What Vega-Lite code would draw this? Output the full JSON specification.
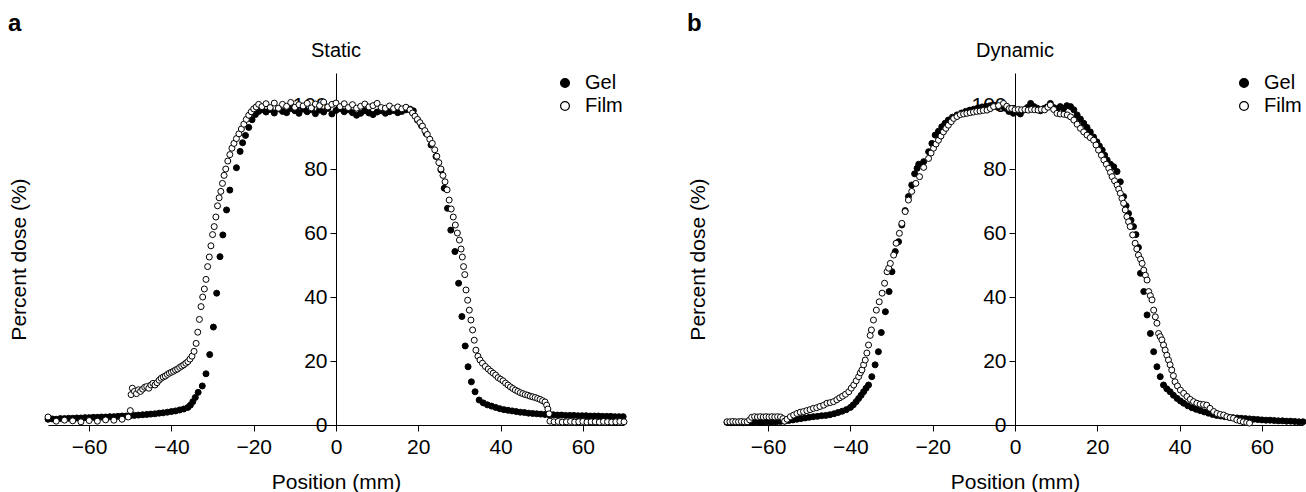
{
"$schema": "https://vega.github.io/schema/vega-lite/v6.json",
"padding": {"left": 8, "top": 12, "right": 0, "bottom": 0},
"spacing": 58,
"resolve": {"scale": {"fill": "independent"}, "legend": {"fill": "independent"}},
"datasets": {
"static": [
{"series":"Gel","x":-70,"y":1.8},{"series":"Gel","x":-69,"y":1.9},{"series":"Gel","x":-68,"y":1.8},{"series":"Gel","x":-67,"y":2.0},{"series":"Gel","x":-66,"y":2.0},{"series":"Gel","x":-65,"y":2.1},{"series":"Gel","x":-64,"y":2.1},{"series":"Gel","x":-63,"y":2.2},{"series":"Gel","x":-62,"y":2.2},{"series":"Gel","x":-61,"y":2.3},{"series":"Gel","x":-60,"y":2.3},{"series":"Gel","x":-59,"y":2.4},{"series":"Gel","x":-58,"y":2.4},{"series":"Gel","x":-57,"y":2.5},{"series":"Gel","x":-56,"y":2.5},{"series":"Gel","x":-55,"y":2.6},{"series":"Gel","x":-54,"y":2.6},{"series":"Gel","x":-53,"y":2.7},{"series":"Gel","x":-52,"y":2.8},{"series":"Gel","x":-51,"y":2.8},{"series":"Gel","x":-50,"y":2.9},{"series":"Gel","x":-49,"y":3.0},{"series":"Gel","x":-48,"y":3.1},{"series":"Gel","x":-47,"y":3.2},{"series":"Gel","x":-46,"y":3.3},{"series":"Gel","x":-45,"y":3.4},{"series":"Gel","x":-44,"y":3.5},{"series":"Gel","x":-43,"y":3.7},{"series":"Gel","x":-42,"y":3.8},{"series":"Gel","x":-41,"y":4.0},{"series":"Gel","x":-40,"y":4.2},{"series":"Gel","x":-39,"y":4.4},{"series":"Gel","x":-38,"y":4.7},{"series":"Gel","x":-37,"y":5.0},{"series":"Gel","x":-36,"y":5.5},{"series":"Gel","x":-35.4,"y":6.2},{"series":"Gel","x":-34.8,"y":7.3},{"series":"Gel","x":-34.2,"y":8.6},{"series":"Gel","x":-33.5,"y":10.2},{"series":"Gel","x":-32.5,"y":12.2},{"series":"Gel","x":-31.6,"y":16.0},{"series":"Gel","x":-30.7,"y":22.0},{"series":"Gel","x":-29.8,"y":30.6},{"series":"Gel","x":-29.0,"y":41.2},{"series":"Gel","x":-28.2,"y":52.6},{"series":"Gel","x":-27.5,"y":59.4},{"series":"Gel","x":-26.6,"y":67.2},{"series":"Gel","x":-25.8,"y":73.4},{"series":"Gel","x":-24.2,"y":80.4},{"series":"Gel","x":-23.3,"y":85.5},{"series":"Gel","x":-22.7,"y":88.2},{"series":"Gel","x":-22.0,"y":90.5},{"series":"Gel","x":-21.2,"y":93.0},{"series":"Gel","x":-20.4,"y":95.4},{"series":"Gel","x":-19.6,"y":97.0},{"series":"Gel","x":-18.8,"y":98.0},
{"series":"Gel","x":-18,"y":98.5},{"series":"Gel","x":-17,"y":97.8},{"series":"Gel","x":-16,"y":98.6},{"series":"Gel","x":-15,"y":97.5},{"series":"Gel","x":-14,"y":98.8},{"series":"Gel","x":-13,"y":98.0},{"series":"Gel","x":-12,"y":97.6},{"series":"Gel","x":-11,"y":98.9},{"series":"Gel","x":-10,"y":98.2},{"series":"Gel","x":-9,"y":97.4},{"series":"Gel","x":-8,"y":98.7},{"series":"Gel","x":-7,"y":97.9},{"series":"Gel","x":-6,"y":98.5},{"series":"Gel","x":-5,"y":97.3},{"series":"Gel","x":-4,"y":98.4},{"series":"Gel","x":-3,"y":97.8},{"series":"Gel","x":-2,"y":98.9},{"series":"Gel","x":-1,"y":97.2},{"series":"Gel","x":0,"y":98.3},{"series":"Gel","x":1,"y":98.8},{"series":"Gel","x":2,"y":97.9},{"series":"Gel","x":3,"y":98.5},{"series":"Gel","x":4,"y":97.6},{"series":"Gel","x":5,"y":96.8},{"series":"Gel","x":6,"y":97.4},{"series":"Gel","x":7,"y":98.2},{"series":"Gel","x":8,"y":97.5},{"series":"Gel","x":9,"y":97.0},{"series":"Gel","x":10,"y":97.8},{"series":"Gel","x":11,"y":98.2},{"series":"Gel","x":12,"y":97.4},{"series":"Gel","x":13,"y":97.9},{"series":"Gel","x":14,"y":98.3},{"series":"Gel","x":15,"y":97.6},{"series":"Gel","x":16,"y":98.0},{"series":"Gel","x":17,"y":98.5},{"series":"Gel","x":18,"y":98.7},
{"series":"Gel","x":18.8,"y":98.2},{"series":"Gel","x":19.8,"y":95.3},{"series":"Gel","x":20.8,"y":93.5},{"series":"Gel","x":21.9,"y":91.1},{"series":"Gel","x":23.1,"y":87.5},{"series":"Gel","x":24.3,"y":83.9},{"series":"Gel","x":25.5,"y":79.7},{"series":"Gel","x":26.3,"y":74.0},{"series":"Gel","x":27.1,"y":67.7},{"series":"Gel","x":27.9,"y":60.9},{"series":"Gel","x":28.9,"y":54.2},{"series":"Gel","x":29.8,"y":44.3},{"series":"Gel","x":30.6,"y":33.9},{"series":"Gel","x":31.4,"y":24.7},{"series":"Gel","x":32.1,"y":18.2},{"series":"Gel","x":32.9,"y":13.5},{"series":"Gel","x":33.8,"y":10.4},{"series":"Gel","x":34.8,"y":7.8},{"series":"Gel","x":35.8,"y":6.9},{"series":"Gel","x":36.8,"y":6.3},{"series":"Gel","x":37.8,"y":5.9},{"series":"Gel","x":38.8,"y":5.5},{"series":"Gel","x":39.8,"y":5.1},{"series":"Gel","x":40.8,"y":4.8},{"series":"Gel","x":41.8,"y":4.6},{"series":"Gel","x":42.8,"y":4.4},{"series":"Gel","x":43.8,"y":4.2},{"series":"Gel","x":44.8,"y":4.0},{"series":"Gel","x":45.8,"y":3.9},{"series":"Gel","x":46.8,"y":3.7},{"series":"Gel","x":47.8,"y":3.6},{"series":"Gel","x":48.8,"y":3.5},{"series":"Gel","x":49.8,"y":3.4},{"series":"Gel","x":50.8,"y":3.3},{"series":"Gel","x":51.8,"y":3.2},{"series":"Gel","x":52.8,"y":3.2},{"series":"Gel","x":53.8,"y":3.1},{"series":"Gel","x":54.8,"y":3.1},{"series":"Gel","x":55.8,"y":3.0},{"series":"Gel","x":56.8,"y":3.0},{"series":"Gel","x":57.8,"y":3.0},{"series":"Gel","x":58.8,"y":2.9},{"series":"Gel","x":59.8,"y":2.9},{"series":"Gel","x":60.8,"y":2.9},{"series":"Gel","x":61.8,"y":2.8},{"series":"Gel","x":62.8,"y":2.8},{"series":"Gel","x":63.8,"y":2.8},{"series":"Gel","x":64.8,"y":2.7},{"series":"Gel","x":65.8,"y":2.7},{"series":"Gel","x":66.8,"y":2.7},{"series":"Gel","x":67.8,"y":2.6},{"series":"Gel","x":68.8,"y":2.6},{"series":"Gel","x":69.8,"y":2.6},
{"series":"Film","x":-70,"y":2.5},{"series":"Film","x":-68,"y":1.2},{"series":"Film","x":-66,"y":1.5},{"series":"Film","x":-64,"y":1.3},{"series":"Film","x":-62,"y":1.0},{"series":"Film","x":-60,"y":1.4},{"series":"Film","x":-58,"y":1.2},{"series":"Film","x":-56,"y":1.6},{"series":"Film","x":-54,"y":1.5},{"series":"Film","x":-52,"y":1.8},{"series":"Film","x":-50.5,"y":2.5},{"series":"Film","x":-50,"y":4.5},{"series":"Film","x":-49.8,"y":9.5},{"series":"Film","x":-49.5,"y":11.5},{"series":"Film","x":-49,"y":10.5},{"series":"Film","x":-48.5,"y":9.8},{"series":"Film","x":-48,"y":11.0},{"series":"Film","x":-47.5,"y":10.5},{"series":"Film","x":-47,"y":11.2},{"series":"Film","x":-46.5,"y":11.8},{"series":"Film","x":-46,"y":12.0},{"series":"Film","x":-45.5,"y":11.5},{"series":"Film","x":-45,"y":12.5},{"series":"Film","x":-44.5,"y":13.0},{"series":"Film","x":-44,"y":12.5},{"series":"Film","x":-43.5,"y":13.2},{"series":"Film","x":-43,"y":14.0},{"series":"Film","x":-42.5,"y":14.6},{"series":"Film","x":-42,"y":15.0},{"series":"Film","x":-41.5,"y":15.3},{"series":"Film","x":-41,"y":15.8},{"series":"Film","x":-40.5,"y":16.2},{"series":"Film","x":-40,"y":16.5},{"series":"Film","x":-39.5,"y":16.8},{"series":"Film","x":-39,"y":17.2},{"series":"Film","x":-38.5,"y":17.5},{"series":"Film","x":-38,"y":18.0},{"series":"Film","x":-37.5,"y":18.4},{"series":"Film","x":-37,"y":18.8},{"series":"Film","x":-36.5,"y":19.3},{"series":"Film","x":-36,"y":19.8},{"series":"Film","x":-35.5,"y":20.6},{"series":"Film","x":-35,"y":21.5},{"series":"Film","x":-34.5,"y":23.0},{"series":"Film","x":-34,"y":25.5},{"series":"Film","x":-33.6,"y":29.0},{"series":"Film","x":-33.2,"y":33.0},{"series":"Film","x":-32.8,"y":37.0},{"series":"Film","x":-32.4,"y":40.0},{"series":"Film","x":-32,"y":42.5},{"series":"Film","x":-31.6,"y":45.5},{"series":"Film","x":-31.2,"y":49.5},{"series":"Film","x":-30.8,"y":52.5},{"series":"Film","x":-30.4,"y":56.0},{"series":"Film","x":-30,"y":59.5},{"series":"Film","x":-29.6,"y":62.0},{"series":"Film","x":-29.2,"y":65.0},{"series":"Film","x":-28.8,"y":68.5},{"series":"Film","x":-28.4,"y":71.0},{"series":"Film","x":-28,"y":73.0},{"series":"Film","x":-27.6,"y":75.5},{"series":"Film","x":-27.2,"y":78.0},{"series":"Film","x":-26.8,"y":80.0},{"series":"Film","x":-26.3,"y":82.5},{"series":"Film","x":-25.8,"y":84.5},{"series":"Film","x":-25.3,"y":86.5},{"series":"Film","x":-24.8,"y":88.0},{"series":"Film","x":-24.2,"y":89.5},{"series":"Film","x":-23.6,"y":91.0},{"series":"Film","x":-23,"y":92.5},{"series":"Film","x":-22.4,"y":94.0},{"series":"Film","x":-21.8,"y":95.5},{"series":"Film","x":-21.2,"y":96.8},{"series":"Film","x":-20.6,"y":97.9},{"series":"Film","x":-20,"y":98.8},{"series":"Film","x":-19.4,"y":99.4},{"series":"Film","x":-18.8,"y":100.2},
{"series":"Film","x":-18,"y":99.5},{"series":"Film","x":-17,"y":100.4},{"series":"Film","x":-16,"y":99.2},{"series":"Film","x":-15,"y":100.6},{"series":"Film","x":-14,"y":99.0},{"series":"Film","x":-13,"y":100.2},{"series":"Film","x":-12,"y":99.6},{"series":"Film","x":-11,"y":100.8},{"series":"Film","x":-10,"y":99.3},{"series":"Film","x":-9,"y":100.1},{"series":"Film","x":-8,"y":99.7},{"series":"Film","x":-7,"y":100.5},{"series":"Film","x":-6,"y":99.1},{"series":"Film","x":-5,"y":100.3},{"series":"Film","x":-4,"y":99.8},{"series":"Film","x":-3,"y":100.9},{"series":"Film","x":-2,"y":99.4},{"series":"Film","x":-1,"y":100.2},{"series":"Film","x":0,"y":100.6},{"series":"Film","x":1,"y":99.5},{"series":"Film","x":2,"y":100.4},{"series":"Film","x":3,"y":99.2},{"series":"Film","x":4,"y":100.1},{"series":"Film","x":5,"y":99.0},{"series":"Film","x":6,"y":99.6},{"series":"Film","x":7,"y":100.3},{"series":"Film","x":8,"y":99.4},{"series":"Film","x":9,"y":99.8},{"series":"Film","x":10,"y":100.5},{"series":"Film","x":11,"y":99.2},{"series":"Film","x":12,"y":99.0},{"series":"Film","x":13,"y":99.7},{"series":"Film","x":14,"y":98.9},{"series":"Film","x":15,"y":99.4},{"series":"Film","x":16,"y":98.8},{"series":"Film","x":17,"y":99.3},{"series":"Film","x":18,"y":98.5},
{"series":"Film","x":18.6,"y":97.5},{"series":"Film","x":19.2,"y":96.5},{"series":"Film","x":19.8,"y":95.5},{"series":"Film","x":20.4,"y":94.5},{"series":"Film","x":21,"y":93.4},{"series":"Film","x":21.6,"y":92.0},{"series":"Film","x":22.2,"y":90.8},{"series":"Film","x":22.8,"y":89.3},{"series":"Film","x":23.4,"y":88.0},{"series":"Film","x":24,"y":86.0},{"series":"Film","x":24.5,"y":84.0},{"series":"Film","x":25,"y":82.0},{"series":"Film","x":25.5,"y":80.0},{"series":"Film","x":26,"y":78.0},{"series":"Film","x":26.5,"y":76.0},{"series":"Film","x":27,"y":73.5},{"series":"Film","x":27.5,"y":70.3},{"series":"Film","x":28,"y":67.5},{"series":"Film","x":28.5,"y":65.0},{"series":"Film","x":29,"y":62.5},{"series":"Film","x":29.5,"y":60.0},{"series":"Film","x":30,"y":57.8},{"series":"Film","x":30.4,"y":55.0},{"series":"Film","x":30.7,"y":52.5},{"series":"Film","x":31,"y":49.5},{"series":"Film","x":31.3,"y":47.0},{"series":"Film","x":31.6,"y":42.2},{"series":"Film","x":32,"y":39.0},{"series":"Film","x":32.4,"y":35.9},{"series":"Film","x":32.8,"y":32.8},{"series":"Film","x":33.2,"y":29.7},{"series":"Film","x":33.6,"y":26.5},{"series":"Film","x":34,"y":23.4},{"series":"Film","x":34.5,"y":21.5},{"series":"Film","x":35,"y":20.3},{"series":"Film","x":35.6,"y":19.3},{"series":"Film","x":36.3,"y":18.3},{"series":"Film","x":37,"y":17.5},{"series":"Film","x":37.6,"y":16.8},{"series":"Film","x":38.2,"y":16.2},{"series":"Film","x":38.8,"y":15.6},{"series":"Film","x":39.4,"y":14.8},{"series":"Film","x":40,"y":14.3},{"series":"Film","x":40.6,"y":13.8},{"series":"Film","x":41.2,"y":13.1},{"series":"Film","x":41.8,"y":12.5},{"series":"Film","x":42.4,"y":11.9},{"series":"Film","x":43,"y":11.4},{"series":"Film","x":43.6,"y":10.9},{"series":"Film","x":44.2,"y":10.5},{"series":"Film","x":44.8,"y":10.1},{"series":"Film","x":45.4,"y":9.8},{"series":"Film","x":46,"y":9.5},{"series":"Film","x":46.6,"y":9.3},{"series":"Film","x":47.2,"y":9.0},{"series":"Film","x":47.8,"y":8.8},{"series":"Film","x":48.4,"y":8.6},{"series":"Film","x":49,"y":8.3},{"series":"Film","x":49.6,"y":8.0},{"series":"Film","x":50.2,"y":7.6},{"series":"Film","x":50.8,"y":7.2},{"series":"Film","x":51.2,"y":6.2},{"series":"Film","x":51.5,"y":5.0},{"series":"Film","x":51.8,"y":3.5},{"series":"Film","x":52,"y":1.2},{"series":"Film","x":53,"y":1.0},{"series":"Film","x":54,"y":1.1},{"series":"Film","x":55,"y":0.9},{"series":"Film","x":56,"y":1.0},{"series":"Film","x":57,"y":1.1},{"series":"Film","x":58,"y":0.9},{"series":"Film","x":59,"y":1.0},{"series":"Film","x":60,"y":1.1},{"series":"Film","x":61,"y":0.9},{"series":"Film","x":62,"y":1.0},{"series":"Film","x":63,"y":1.0},{"series":"Film","x":64,"y":0.9},{"series":"Film","x":65,"y":1.1},{"series":"Film","x":66,"y":1.0},{"series":"Film","x":67,"y":0.9},{"series":"Film","x":68,"y":1.0},{"series":"Film","x":69,"y":1.1},{"series":"Film","x":70,"y":1.0}
],
"dynamic": [
{"series":"Gel","x":-70,"y":0.8},{"series":"Gel","x":-69,"y":0.7},{"series":"Gel","x":-68,"y":0.9},{"series":"Gel","x":-67,"y":0.8},{"series":"Gel","x":-66,"y":0.7},{"series":"Gel","x":-65,"y":0.9},{"series":"Gel","x":-64,"y":0.8},{"series":"Gel","x":-63,"y":0.9},{"series":"Gel","x":-62,"y":0.8},{"series":"Gel","x":-61,"y":0.9},{"series":"Gel","x":-60,"y":1.0},{"series":"Gel","x":-59,"y":0.9},{"series":"Gel","x":-58,"y":1.0},{"series":"Gel","x":-57,"y":1.1},{"series":"Gel","x":-56,"y":1.2},{"series":"Gel","x":-55,"y":1.4},{"series":"Gel","x":-54,"y":1.6},{"series":"Gel","x":-53,"y":1.8},{"series":"Gel","x":-52,"y":2.0},{"series":"Gel","x":-51,"y":2.2},{"series":"Gel","x":-50,"y":2.4},{"series":"Gel","x":-49,"y":2.6},{"series":"Gel","x":-48,"y":2.7},{"series":"Gel","x":-47,"y":2.9},{"series":"Gel","x":-46,"y":3.0},{"series":"Gel","x":-45,"y":3.2},{"series":"Gel","x":-44,"y":3.5},{"series":"Gel","x":-43,"y":3.9},{"series":"Gel","x":-42,"y":4.3},{"series":"Gel","x":-41,"y":4.8},{"series":"Gel","x":-40,"y":5.5},{"series":"Gel","x":-39.3,"y":6.3},{"series":"Gel","x":-38.6,"y":7.3},{"series":"Gel","x":-38,"y":8.3},{"series":"Gel","x":-37.4,"y":9.3},{"series":"Gel","x":-36.8,"y":10.4},{"series":"Gel","x":-36.2,"y":11.5},{"series":"Gel","x":-35.6,"y":12.5},{"series":"Gel","x":-34.8,"y":15.1},{"series":"Gel","x":-34,"y":18.8},{"series":"Gel","x":-33.2,"y":22.9},{"series":"Gel","x":-32.5,"y":28.9},{"series":"Gel","x":-31.5,"y":35.4},{"series":"Gel","x":-30.6,"y":41.7},{"series":"Gel","x":-29.9,"y":47.9},{"series":"Gel","x":-29.1,"y":54.2},{"series":"Gel","x":-28.3,"y":57.3},{"series":"Gel","x":-27.5,"y":62.5},{"series":"Gel","x":-26.7,"y":67.0},{"series":"Gel","x":-25.9,"y":71.4},{"series":"Gel","x":-25.1,"y":75.0},{"series":"Gel","x":-24.4,"y":78.5},{"series":"Gel","x":-23.8,"y":80.2},{"series":"Gel","x":-23.4,"y":81.5},{"series":"Gel","x":-22.2,"y":82.3},{"series":"Gel","x":-21,"y":85.4},{"series":"Gel","x":-20.2,"y":88.0},{"series":"Gel","x":-19.4,"y":90.6},{"series":"Gel","x":-18.6,"y":91.8},{"series":"Gel","x":-17.8,"y":93.2},{"series":"Gel","x":-17,"y":94.3},{"series":"Gel","x":-16.2,"y":95.3},{"series":"Gel","x":-15.2,"y":96.2},{"series":"Gel","x":-14.1,"y":96.9},{"series":"Gel","x":-13,"y":97.5},{"series":"Gel","x":-12,"y":98.0},{"series":"Gel","x":-11,"y":98.4},{"series":"Gel","x":-10,"y":98.7},{"series":"Gel","x":-9,"y":99.1},{"series":"Gel","x":-8,"y":99.4},{"series":"Gel","x":-7,"y":99.6},{"series":"Gel","x":-6,"y":99.8},{"series":"Gel","x":-5.2,"y":100.0},{"series":"Gel","x":-4.2,"y":99.3},{"series":"Gel","x":-3.2,"y":99.6},{"series":"Gel","x":-2.4,"y":99.0},{"series":"Gel","x":-1.5,"y":98.0},{"series":"Gel","x":-0.4,"y":97.4},{"series":"Gel","x":0.5,"y":97.8},{"series":"Gel","x":1.3,"y":97.2},{"series":"Gel","x":2.1,"y":98.4},{"series":"Gel","x":3,"y":99.2},{"series":"Gel","x":3.8,"y":100.5},{"series":"Gel","x":4.6,"y":99.5},{"series":"Gel","x":5.4,"y":99.0},{"series":"Gel","x":6.2,"y":98.2},{"series":"Gel","x":7,"y":98.9},{"series":"Gel","x":7.8,"y":99.4},{"series":"Gel","x":8.6,"y":100.5},{"series":"Gel","x":9.4,"y":99.2},{"series":"Gel","x":10.2,"y":98.8},{"series":"Gel","x":11,"y":99.5},{"series":"Gel","x":11.8,"y":98.9},{"series":"Gel","x":12.6,"y":99.8},{"series":"Gel","x":13.5,"y":99.5},{"series":"Gel","x":14.3,"y":98.5},{"series":"Gel","x":15.1,"y":96.9},{"series":"Gel","x":15.9,"y":95.6},{"series":"Gel","x":16.7,"y":94.3},{"series":"Gel","x":17.5,"y":93.0},{"series":"Gel","x":18.3,"y":91.6},{"series":"Gel","x":19.1,"y":90.0},{"series":"Gel","x":19.9,"y":88.5},{"series":"Gel","x":20.5,"y":87.2},{"series":"Gel","x":21.2,"y":85.9},{"series":"Gel","x":21.8,"y":84.3},{"series":"Gel","x":22.4,"y":82.8},{"series":"Gel","x":23.2,"y":81.5},{"series":"Gel","x":24,"y":80.7},{"series":"Gel","x":24.8,"y":79.2},{"series":"Gel","x":25.6,"y":76.0},{"series":"Gel","x":26.4,"y":71.4},{"series":"Gel","x":27,"y":68.5},{"series":"Gel","x":27.6,"y":66.1},{"series":"Gel","x":28.2,"y":64.0},{"series":"Gel","x":28.8,"y":62.0},{"series":"Gel","x":29.4,"y":59.5},{"series":"Gel","x":30,"y":55.5},{"series":"Gel","x":30.5,"y":47.4},{"series":"Gel","x":31.3,"y":41.7},{"series":"Gel","x":32.1,"y":34.4},{"series":"Gel","x":32.9,"y":28.6},{"series":"Gel","x":33.7,"y":22.9},{"series":"Gel","x":34.5,"y":18.2},{"series":"Gel","x":35.3,"y":15.1},{"series":"Gel","x":36.1,"y":12.5},{"series":"Gel","x":36.9,"y":11.3},{"series":"Gel","x":37.7,"y":10.4},{"series":"Gel","x":38.5,"y":9.3},{"series":"Gel","x":39.4,"y":8.3},{"series":"Gel","x":40.2,"y":7.5},{"series":"Gel","x":41,"y":6.8},{"series":"Gel","x":42,"y":6.0},{"series":"Gel","x":43,"y":5.4},{"series":"Gel","x":44,"y":4.9},{"series":"Gel","x":45,"y":4.5},{"series":"Gel","x":46,"y":4.1},{"series":"Gel","x":47,"y":3.7},{"series":"Gel","x":48,"y":3.3},{"series":"Gel","x":49,"y":3.0},{"series":"Gel","x":50,"y":2.8},{"series":"Gel","x":51,"y":2.6},{"series":"Gel","x":52,"y":2.4},{"series":"Gel","x":53,"y":2.3},{"series":"Gel","x":54,"y":2.2},{"series":"Gel","x":55,"y":2.1},{"series":"Gel","x":56,"y":2.0},{"series":"Gel","x":57,"y":1.9},{"series":"Gel","x":58,"y":1.8},{"series":"Gel","x":59,"y":1.7},{"series":"Gel","x":60,"y":1.6},{"series":"Gel","x":61,"y":1.5},{"series":"Gel","x":62,"y":1.5},{"series":"Gel","x":63,"y":1.4},{"series":"Gel","x":64,"y":1.3},{"series":"Gel","x":65,"y":1.3},{"series":"Gel","x":66,"y":1.2},{"series":"Gel","x":67,"y":1.2},{"series":"Gel","x":68,"y":1.1},{"series":"Gel","x":69,"y":1.0},{"series":"Gel","x":70,"y":1.0},
{"series":"Film","x":-70,"y":1.0},{"series":"Film","x":-69.3,"y":1.0},{"series":"Film","x":-68.6,"y":1.1},{"series":"Film","x":-67.9,"y":1.0},{"series":"Film","x":-67.2,"y":1.0},{"series":"Film","x":-66.5,"y":1.1},{"series":"Film","x":-65.8,"y":1.0},{"series":"Film","x":-65.1,"y":1.0},{"series":"Film","x":-64.5,"y":1.6},{"series":"Film","x":-64,"y":2.4},{"series":"Film","x":-63.3,"y":2.6},{"series":"Film","x":-62.6,"y":2.5},{"series":"Film","x":-61.9,"y":2.6},{"series":"Film","x":-61.2,"y":2.5},{"series":"Film","x":-60.5,"y":2.6},{"series":"Film","x":-59.8,"y":2.5},{"series":"Film","x":-59.1,"y":2.6},{"series":"Film","x":-58.4,"y":2.5},{"series":"Film","x":-57.7,"y":2.6},{"series":"Film","x":-57,"y":2.5},{"series":"Film","x":-56.4,"y":2.0},{"series":"Film","x":-56,"y":1.2},{"series":"Film","x":-55.4,"y":1.8},{"series":"Film","x":-54.6,"y":2.6},{"series":"Film","x":-53.8,"y":3.1},{"series":"Film","x":-53,"y":3.6},{"series":"Film","x":-52.2,"y":4.0},{"series":"Film","x":-51.4,"y":4.2},{"series":"Film","x":-50.6,"y":4.5},{"series":"Film","x":-49.8,"y":4.8},{"series":"Film","x":-49,"y":5.2},{"series":"Film","x":-48.2,"y":5.4},{"series":"Film","x":-47.4,"y":5.8},{"series":"Film","x":-46.5,"y":6.2},{"series":"Film","x":-45.7,"y":6.8},{"series":"Film","x":-44.9,"y":7.0},{"series":"Film","x":-44.1,"y":7.3},{"series":"Film","x":-43.3,"y":7.9},{"series":"Film","x":-42.6,"y":8.5},{"series":"Film","x":-41.9,"y":9.0},{"series":"Film","x":-41.2,"y":9.6},{"series":"Film","x":-40.4,"y":10.4},{"series":"Film","x":-39.8,"y":11.5},{"series":"Film","x":-39.2,"y":12.5},{"series":"Film","x":-38.6,"y":13.8},{"series":"Film","x":-38,"y":15.1},{"series":"Film","x":-37.6,"y":16.3},{"series":"Film","x":-37.2,"y":17.2},{"series":"Film","x":-36.8,"y":18.8},{"series":"Film","x":-36.4,"y":20.3},{"series":"Film","x":-36,"y":22.5},{"series":"Film","x":-35.6,"y":25.0},{"series":"Film","x":-35.2,"y":28.0},{"series":"Film","x":-34.9,"y":29.7},{"series":"Film","x":-34.4,"y":32.8},{"series":"Film","x":-33.7,"y":35.9},{"series":"Film","x":-33,"y":38.5},{"series":"Film","x":-32.3,"y":41.2},{"series":"Film","x":-31.7,"y":44.3},{"series":"Film","x":-31.1,"y":47.9},{"series":"Film","x":-30.7,"y":49.0},{"series":"Film","x":-30.3,"y":50.5},{"series":"Film","x":-29.5,"y":53.1},{"series":"Film","x":-28.9,"y":56.8},{"series":"Film","x":-28.1,"y":59.9},{"series":"Film","x":-27.5,"y":63.0},{"series":"Film","x":-26.7,"y":66.7},{"series":"Film","x":-25.9,"y":70.3},{"series":"Film","x":-25.1,"y":73.0},{"series":"Film","x":-24.1,"y":75.5},{"series":"Film","x":-23.2,"y":77.6},{"series":"Film","x":-22.2,"y":80.5},{"series":"Film","x":-21,"y":83.3},{"series":"Film","x":-20.4,"y":85.0},{"series":"Film","x":-19.8,"y":86.5},{"series":"Film","x":-19.2,"y":87.8},{"series":"Film","x":-18.6,"y":89.0},{"series":"Film","x":-18,"y":90.3},{"series":"Film","x":-17.4,"y":91.6},{"series":"Film","x":-16.8,"y":92.7},{"series":"Film","x":-16.2,"y":93.7},{"series":"Film","x":-15.5,"y":94.8},{"series":"Film","x":-14.9,"y":95.8},{"series":"Film","x":-14.1,"y":96.4},{"series":"Film","x":-13.3,"y":97.0},{"series":"Film","x":-12.5,"y":97.2},{"series":"Film","x":-11.7,"y":97.4},{"series":"Film","x":-10.9,"y":97.6},{"series":"Film","x":-10.1,"y":97.8},{"series":"Film","x":-9.3,"y":98.0},{"series":"Film","x":-8.5,"y":98.1},{"series":"Film","x":-7.7,"y":98.3},{"series":"Film","x":-6.8,"y":98.4},{"series":"Film","x":-6,"y":98.9},{"series":"Film","x":-5.2,"y":99.5},{"series":"Film","x":-4,"y":99.8},{"series":"Film","x":-2.8,"y":100.5},{"series":"Film","x":-2,"y":99.6},{"series":"Film","x":-1.4,"y":98.9},{"series":"Film","x":-0.8,"y":98.9},{"series":"Film","x":0,"y":98.5},{"series":"Film","x":0.8,"y":98.6},{"series":"Film","x":1.6,"y":98.5},{"series":"Film","x":2.4,"y":98.6},{"series":"Film","x":3.2,"y":98.4},{"series":"Film","x":4,"y":98.6},{"series":"Film","x":4.8,"y":98.5},{"series":"Film","x":5.6,"y":98.4},{"series":"Film","x":6.4,"y":98.6},{"series":"Film","x":7.2,"y":98.5},{"series":"Film","x":8,"y":99.3},{"series":"Film","x":8.6,"y":100.0},{"series":"Film","x":9.4,"y":98.6},{"series":"Film","x":10.2,"y":97.4},{"series":"Film","x":11,"y":97.2},{"series":"Film","x":11.9,"y":97.1},{"series":"Film","x":12.7,"y":96.9},{"series":"Film","x":13.5,"y":96.3},{"series":"Film","x":14.3,"y":95.3},{"series":"Film","x":15.1,"y":94.0},{"series":"Film","x":15.9,"y":92.7},{"series":"Film","x":16.7,"y":91.6},{"series":"Film","x":17.5,"y":90.6},{"series":"Film","x":18.3,"y":89.8},{"series":"Film","x":19.1,"y":89.0},{"series":"Film","x":19.7,"y":87.5},{"series":"Film","x":20.3,"y":85.9},{"series":"Film","x":21,"y":84.3},{"series":"Film","x":21.6,"y":82.8},{"series":"Film","x":22.2,"y":81.5},{"series":"Film","x":22.8,"y":80.2},{"series":"Film","x":23.2,"y":78.9},{"series":"Film","x":23.6,"y":77.6},{"series":"Film","x":24.2,"y":76.3},{"series":"Film","x":24.8,"y":75.0},{"series":"Film","x":25.2,"y":73.7},{"series":"Film","x":25.6,"y":72.4},{"series":"Film","x":26,"y":70.8},{"series":"Film","x":26.4,"y":69.3},{"series":"Film","x":26.8,"y":67.2},{"series":"Film","x":27.2,"y":65.1},{"series":"Film","x":27.6,"y":63.5},{"series":"Film","x":28,"y":62.0},{"series":"Film","x":28.6,"y":59.4},{"series":"Film","x":29.2,"y":56.8},{"series":"Film","x":29.6,"y":55.0},{"series":"Film","x":30,"y":53.1},{"series":"Film","x":30.5,"y":51.8},{"series":"Film","x":30.9,"y":50.5},{"series":"Film","x":31.3,"y":48.4},{"series":"Film","x":31.7,"y":46.8},{"series":"Film","x":32.1,"y":45.3},{"series":"Film","x":32.5,"y":41.7},{"series":"Film","x":32.9,"y":40.4},{"series":"Film","x":33.3,"y":39.1},{"series":"Film","x":33.7,"y":35.9},{"series":"Film","x":34.1,"y":33.8},{"series":"Film","x":34.5,"y":31.8},{"series":"Film","x":34.9,"y":28.6},{"series":"Film","x":35.3,"y":27.6},{"series":"Film","x":35.7,"y":26.6},{"series":"Film","x":36.1,"y":25.0},{"series":"Film","x":36.5,"y":23.4},{"series":"Film","x":36.9,"y":21.8},{"series":"Film","x":37.3,"y":20.3},{"series":"Film","x":37.7,"y":18.8},{"series":"Film","x":38.1,"y":17.2},{"series":"Film","x":38.5,"y":15.4},{"series":"Film","x":38.9,"y":13.5},{"series":"Film","x":39.5,"y":12.2},{"series":"Film","x":40.2,"y":10.9},{"series":"Film","x":41,"y":9.9},{"series":"Film","x":41.8,"y":8.9},{"series":"Film","x":42.6,"y":8.0},{"series":"Film","x":43.4,"y":7.3},{"series":"Film","x":44.2,"y":6.8},{"series":"Film","x":45,"y":6.5},{"series":"Film","x":45.8,"y":6.4},{"series":"Film","x":46.6,"y":6.2},{"series":"Film","x":47.4,"y":5.2},{"series":"Film","x":48.3,"y":4.2},{"series":"Film","x":49.1,"y":3.6},{"series":"Film","x":49.9,"y":3.3},{"series":"Film","x":50.7,"y":3.1},{"series":"Film","x":51.5,"y":2.6},{"series":"Film","x":52.3,"y":2.3},{"series":"Film","x":53.1,"y":2.1},{"series":"Film","x":53.9,"y":1.6},{"series":"Film","x":54.7,"y":1.3},{"series":"Film","x":55.5,"y":1.0},{"series":"Film","x":56.3,"y":0.8},{"series":"Film","x":57,"y":0.6}
]
},
"hconcat": [
{
"title": {"text": "a", "anchor": "start", "frame": "bounds", "fontSize": 24, "fontWeight": "bold", "offset": 5},
"vconcat": [
{
"title": {"text": "Static", "anchor": "middle", "fontSize": 20, "fontWeight": "normal", "offset": 12},
"width": 576, "height": 352,
"data": {"name": "static"},
"mark": {"type": "point", "shape": "circle", "size": 36, "stroke": "black", "strokeWidth": 1, "opacity": 1},
"encoding": {
"x": {"field": "x", "type": "quantitative", "scale": {"domain": [-70, 70], "nice": false, "zero": false},
"axis": {"values": [-60, -40, -20, 0, 20, 40, 60], "title": "Position (mm)"}},
"y": {"field": "y", "type": "quantitative", "scale": {"domain": [0, 110], "nice": false},
"axis": {"values": [0, 20, 40, 60, 80, 100], "offset": -288, "title": "Percent dose (%)", "titleX": -317, "titleY": 186, "titleAngle": -90, "titleBaseline": "middle", "titleAlign": "center"}},
"fill": {"field": "series", "type": "nominal", "scale": {"domain": ["Gel", "Film"], "range": ["black", "white"]},
"legend": {"title": null, "orient": "none", "legendX": 507, "legendY": 0}}
}
}
]
},
{
"title": {"text": "b", "anchor": "start", "frame": "bounds", "fontSize": 24, "fontWeight": "bold", "offset": 5},
"vconcat": [
{
"title": {"text": "Dynamic", "anchor": "middle", "fontSize": 20, "fontWeight": "normal", "offset": 12},
"width": 576, "height": 352,
"data": {"name": "dynamic"},
"mark": {"type": "point", "shape": "circle", "size": 36, "stroke": "black", "strokeWidth": 1, "opacity": 1},
"encoding": {
"x": {"field": "x", "type": "quantitative", "scale": {"domain": [-70, 70], "nice": false, "zero": false},
"axis": {"values": [-60, -40, -20, 0, 20, 40, 60], "title": "Position (mm)"}},
"y": {"field": "y", "type": "quantitative", "scale": {"domain": [0, 110], "nice": false},
"axis": {"values": [0, 20, 40, 60, 80, 100], "offset": -288, "title": "Percent dose (%)", "titleX": -317, "titleY": 186, "titleAngle": -90, "titleBaseline": "middle", "titleAlign": "center"}},
"fill": {"field": "series", "type": "nominal", "scale": {"domain": ["Gel", "Film"], "range": ["black", "white"]},
"legend": {"title": null, "orient": "none", "legendX": 507, "legendY": 0}}
}
}
]
}
],
"config": {
"font": "Liberation Sans",
"background": "white",
"view": {"stroke": null},
"title": {"color": "black", "font": "Liberation Sans"},
"axis": {"grid": false, "domainColor": "black", "tickColor": "black", "labelColor": "black", "titleColor": "black", "labelFontSize": 21, "titleFontSize": 21, "titleFontWeight": "normal", "tickSize": 6, "labelPadding": 3, "domainWidth": 1, "tickWidth": 1, "labelFont": "Liberation Sans", "titleFont": "Liberation Sans"},
"axisX": {"labelPadding": 5, "titlePadding": 14},
"legend": {"labelFontSize": 20, "labelColor": "black", "symbolType": "circle", "symbolSize": 78, "symbolStrokeColor": "black", "symbolStrokeWidth": 1.2, "rowPadding": 3, "labelOffset": 10, "padding": 0, "labelFont": "Liberation Sans"}
}
}
